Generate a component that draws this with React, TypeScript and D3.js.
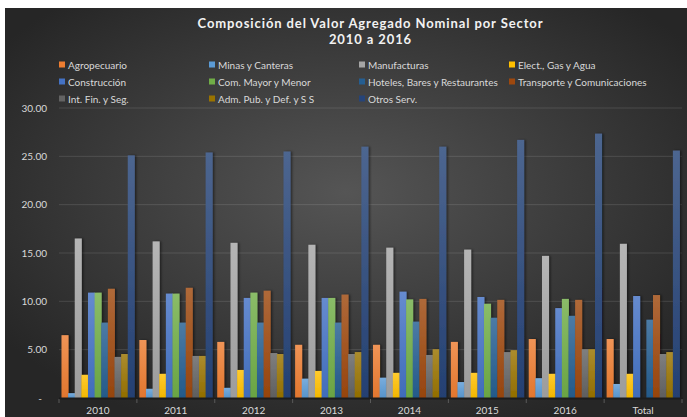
import React from 'react';
import * as d3 from 'd3';

const categories = ['2010', '2011', '2012', '2013', '2014', '2015', '2016', 'Total'];

const seriesNames = [
	'Agropecuario', 'Minas y Canteras', 'Manufacturas', 'Elect., Gas y Agua',
	'Construcción', 'Com. Mayor y Menor', 'Hoteles, Bares y Restaurantes', 'Transporte y Comunicaciones',
	'Int. Fin. y Seg.', 'Adm. Pub. y Def. y S S', 'Otros Serv.'
];
const seriesColors = [
	'#ED7D31', '#5B9BD5', '#A5A5A5', '#FFC000',
	'#4472C4', '#70AD47', '#255E91', '#9E480E',
	'#636363', '#997300', '#264478'
];

const agropecuario = [6.5, 6.0, 5.8, 5.5, 5.5, 5.8, 6.1, 6.1];
const minas = [0.5, 0.95, 1.05, 2.0, 2.1, 1.65, 2.05, 1.45];
const manufacturas = [16.5, 16.2, 16.05, 15.85, 15.55, 15.35, 14.7, 15.95];
const electricidad = [2.4, 2.5, 2.9, 2.8, 2.6, 2.6, 2.5, 2.5];
const construccion = [10.9, 10.8, 10.35, 10.35, 11.0, 10.45, 9.3, 10.55];
const comercio = [10.9, 10.8, 10.9, 10.35, 10.2, 9.75, 10.25, null];
const hoteles = [7.8, 7.8, 7.8, 7.8, 7.9, 8.3, 8.5, 8.1];
const transporte = [11.3, 11.4, 11.1, 10.7, 10.25, 10.15, 10.15, 10.65];
const intFin = [4.25, 4.35, 4.65, 4.55, 4.45, 4.75, 5.05, 4.55];
const admPub = [4.55, 4.35, 4.55, 4.75, 5.05, 4.95, 5.05, 4.75];
const otros = [25.1, 25.4, 25.5, 26.0, 26.0, 26.7, 27.35, 25.6];

const seriesValues = [
	agropecuario, minas, manufacturas, electricidad, construccion, comercio,
	hoteles, transporte, intFin, admPub, otros
];

const yTicks = [0, 5, 10, 15, 20, 25, 30];

class App extends React.Component {
	componentDidMount() {
		document.body.style.margin = '0';
		this.drawChart();
	}

	drawChart() {
		const w = 687;
		const h = 417;
		const left = 59, right = 682, top = 108, bottom = 398;

		const root = d3.select('#chart');
		root.selectAll('*').remove();

		const svg = root
			.append('svg')
			.attr('width', w)
			.attr('height', h)
			.style('display', 'block');

		const defs = svg.append('defs');
		const bg = defs.append('radialGradient')
			.attr('id', 'bg')
			.attr('cx', '50%').attr('cy', '45%').attr('r', '62%');
		bg.append('stop').attr('offset', '0%').attr('stop-color', '#555555');
		bg.append('stop').attr('offset', '100%').attr('stop-color', '#262626');

		seriesColors.forEach((c, i) => {
			const g = defs.append('linearGradient')
				.attr('id', 'grad' + i)
				.attr('x1', 0).attr('y1', 0).attr('x2', 0).attr('y2', 1);
			g.append('stop').attr('offset', '0%').attr('stop-color', d3.interpolateRgb(c, '#ffffff')(0.18));
			g.append('stop').attr('offset', '100%').attr('stop-color', d3.color(c)!.darker(0.15).toString());
		});

		const shadow = defs.append('filter').attr('id', 'shadow')
			.attr('x', '-50%').attr('y', '-10%').attr('width', '200%').attr('height', '120%');
		shadow.append('feDropShadow')
			.attr('dx', 1.5).attr('dy', 0).attr('stdDeviation', 1)
			.attr('flood-color', '#000').attr('flood-opacity', 0.5);

		svg.append('rect')
			.attr('x', 5).attr('y', 8)
			.attr('width', w - 5).attr('height', h - 8)
			.attr('fill', 'url(#bg)');

		const x0 = d3.scaleBand()
			.domain(categories)
			.range([left, right])
			.paddingInner(0.064)
			.paddingOuter(0.032);

		const x1 = d3.scaleBand()
			.domain(seriesNames)
			.range([0, x0.bandwidth()]);

		const y = d3.scaleLinear()
			.domain([0, 30])
			.range([bottom, top]);

		// title
		const title = svg.append('text')
			.attr('x', (left + right) / 2)
			.attr('text-anchor', 'middle')
			.attr('font-family', 'Lato, sans-serif')
			.attr('font-weight', 'bold')
			.attr('font-size', '13px')
			.attr('letter-spacing', '0.9px')
			.attr('fill', '#f2f2f2');
		title.append('tspan').attr('x', (left + right) / 2).attr('y', 28)
			.text('Composición del Valor Agregado Nominal por Sector');
		title.append('tspan').attr('x', (left + right) / 2).attr('y', 44)
			.text('2010 a 2016');

		// legend
		const legendX = [59, 209, 359, 509];
		const legendY = [65, 82, 99];
		const legend = svg.append('g')
			.selectAll('g')
			.data(seriesNames)
			.enter()
			.append('g')
			.attr('transform', (d, i) => `translate(${legendX[i % 4]},${legendY[Math.floor(i / 4)]})`);
		legend.append('rect')
			.attr('x', 0).attr('y', -3.5)
			.attr('width', 6).attr('height', 6)
			.attr('fill', (d, i) => seriesColors[i]);
		legend.append('text')
			.attr('x', 9).attr('y', 3.5)
			.attr('font-family', 'Lato, sans-serif')
			.attr('font-size', '10px')
			.attr('fill', '#d9d9d9')
			.text(d => d);

		// gridlines
		svg.append('g')
			.selectAll('line')
			.data(yTicks.filter(t => t > 0))
			.enter()
			.append('line')
			.attr('x1', left).attr('x2', right)
			.attr('y1', d => y(d)).attr('y2', d => y(d))
			.attr('stroke', '#ffffff')
			.attr('stroke-opacity', 0.12)
			.attr('stroke-width', 1);

		// y labels
		svg.append('g')
			.selectAll('text')
			.data(yTicks)
			.enter()
			.append('text')
			.attr('x', d => d === 0 ? 42 : 47)
			.attr('y', d => y(d) + 3.5)
			.attr('text-anchor', 'end')
			.attr('font-family', 'Lato, sans-serif')
			.attr('font-size', '10px')
			.attr('fill', '#d9d9d9')
			.text(d => d === 0 ? '-' : d3.format('.2f')(d));

		// bars
		const groups = svg.append('g')
			.selectAll('g')
			.data(categories)
			.enter()
			.append('g')
			.attr('transform', d => `translate(${x0(d)},0)`);

		groups.selectAll('rect')
			.data((d, ci) => seriesNames.map((s, si) => ({ s, si, v: seriesValues[si][ci] })).filter(e => e.v != null))
			.enter()
			.append('rect')
			.attr('x', d => x1(d.s)!)
			.attr('y', d => y(d.v as number))
			.attr('width', x1.bandwidth() + 0.4)
			.attr('height', d => bottom - y(d.v as number))
			.attr('fill', d => `url(#grad${d.si})`)
			.attr('filter', 'url(#shadow)');

		// x axis
		svg.append('line')
			.attr('x1', left).attr('x2', right + 1)
			.attr('y1', bottom + 0.5).attr('y2', bottom + 0.5)
			.attr('stroke', '#1c1c1c')
			.attr('stroke-width', 2);

		const step = x0.step();
		svg.append('g')
			.selectAll('line')
			.data(d3.range(categories.length + 1))
			.enter()
			.append('line')
			.attr('x1', i => left + i * step).attr('x2', i => left + i * step)
			.attr('y1', bottom + 1).attr('y2', bottom + 5)
			.attr('stroke', '#5a5a5a');

		svg.append('g')
			.selectAll('text')
			.data(categories)
			.enter()
			.append('text')
			.attr('x', d => x0(d)! + x0.bandwidth() / 2)
			.attr('y', 414)
			.attr('text-anchor', 'middle')
			.attr('font-family', 'Lato, sans-serif')
			.attr('font-size', '10px')
			.attr('fill', '#d9d9d9')
			.text(d => d);
	}

	render() {
		return (
			<div id="chart" />
		);
	}
}

export default App;
